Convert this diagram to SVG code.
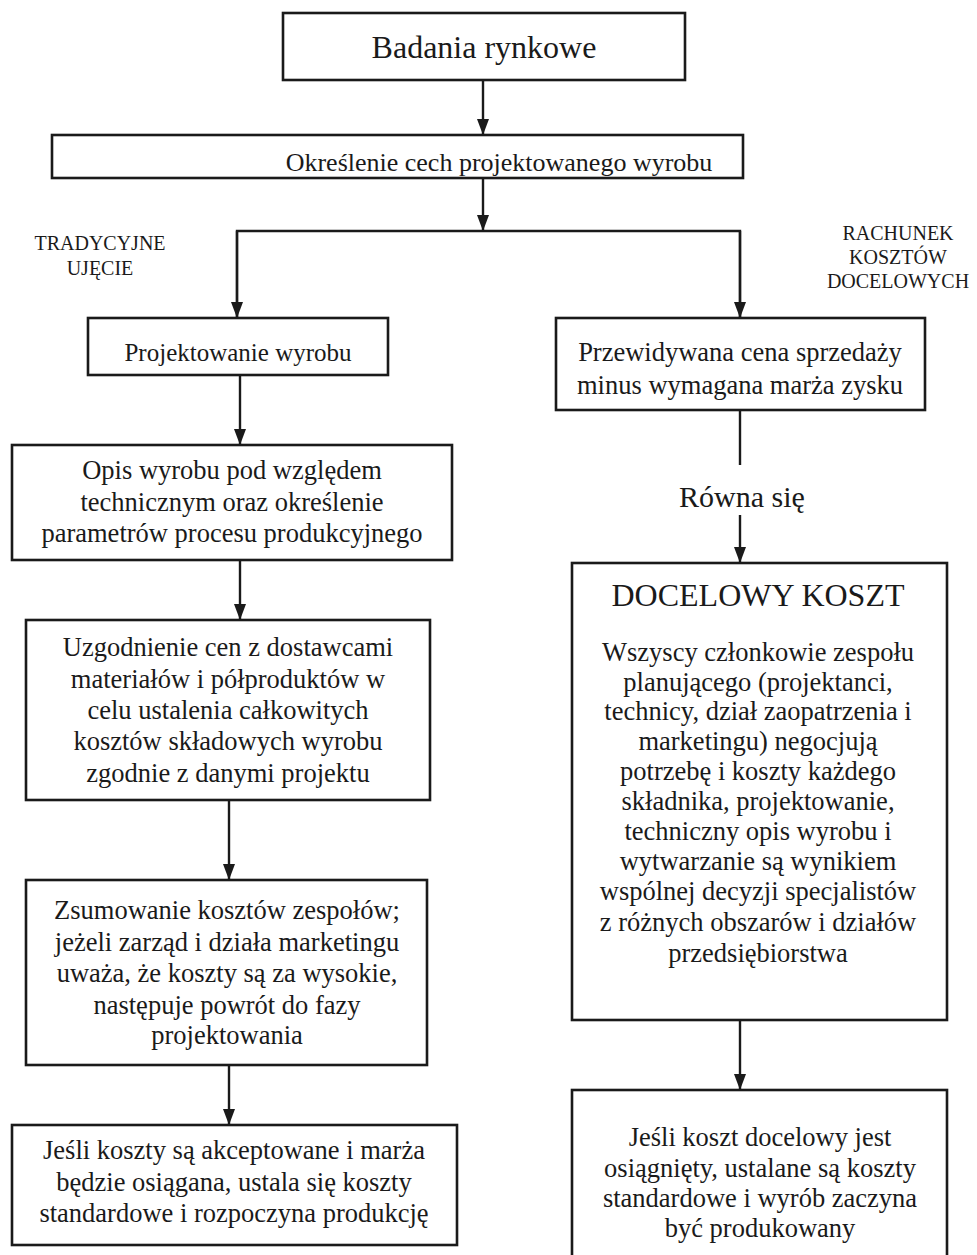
<svg xmlns="http://www.w3.org/2000/svg" width="977" height="1255" viewBox="0 0 977 1255">
<defs>
<style>
.box{fill:#fff;stroke:#1a1a1a;stroke-width:2.6}
.ln{fill:none;stroke:#1a1a1a;stroke-width:2.4}
text{font-family:"Liberation Serif","Times New Roman",serif;fill:#1a1a1a;text-anchor:middle}
.t{font-size:26.5px}
.s{font-size:20px}
</style>
<marker id="ah" viewBox="0 0 16 12" refX="16" refY="6" markerWidth="16" markerHeight="13" markerUnits="userSpaceOnUse" orient="auto">
<path d="M0,0 L16,6 L0,12 z" fill="#1a1a1a"/>
</marker>
</defs>
<rect width="977" height="1255" fill="#fff"/>
<g id="connectors">
<line class="ln" x1="483" y1="80" x2="483" y2="135" marker-end="url(#ah)"/>
<line class="ln" x1="483" y1="178" x2="483" y2="231" marker-end="url(#ah)"/>
<polyline class="ln" points="237,318 237,231 740,231 740,318"/>
<line class="ln" x1="237" y1="231" x2="237" y2="318" marker-end="url(#ah)"/>
<line class="ln" x1="740" y1="231" x2="740" y2="318" marker-end="url(#ah)"/>
<line class="ln" x1="240" y1="375" x2="240" y2="445" marker-end="url(#ah)"/>
<line class="ln" x1="240" y1="560" x2="240" y2="620" marker-end="url(#ah)"/>
<line class="ln" x1="229" y1="800" x2="229" y2="880" marker-end="url(#ah)"/>
<line class="ln" x1="229" y1="1065" x2="229" y2="1125" marker-end="url(#ah)"/>
<line class="ln" x1="740" y1="410" x2="740" y2="465"/>
<line class="ln" x1="740" y1="515" x2="740" y2="563" marker-end="url(#ah)"/>
<line class="ln" x1="740" y1="1020" x2="740" y2="1090" marker-end="url(#ah)"/>
</g>
<g id="n-badania">
<rect class="box" x="283" y="13" width="402" height="67"/>
<text x="484" y="58" style="font-size:32px">Badania rynkowe</text>
</g>
<g id="n-okreslenie">
<rect class="box" x="52" y="135" width="691" height="43"/>
<text x="499" y="171" style="font-size:26px">Określenie cech projektowanego wyrobu</text>
</g>
<g id="lbl-tradycyjne">
<text class="s" x="100" y="250">TRADYCYJNE</text>
<text class="s" x="100" y="275">UJĘCIE</text>
</g>
<g id="lbl-rachunek">
<text class="s" x="898" y="240">RACHUNEK</text>
<text class="s" x="898" y="264">KOSZTÓW</text>
<text class="s" x="898" y="288">DOCELOWYCH</text>
</g>
<g id="n-projektowanie">
<rect class="box" x="88" y="318" width="300" height="57"/>
<text x="238" y="361" style="font-size:25px">Projektowanie wyrobu</text>
</g>
<g id="n-cena">
<rect class="box" x="556" y="318" width="369" height="92"/>
<text class="t" x="740" y="361">Przewidywana cena sprzedaży</text>
<text class="t" x="740" y="394">minus wymagana marża zysku</text>
</g>
<g id="lbl-rowna">
<text x="742" y="507" style="font-size:30px">Równa się</text>
</g>
<g id="n-opis">
<rect class="box" x="12" y="445" width="440" height="115"/>
<text class="t" x="232" y="479">Opis wyrobu pod względem</text>
<text class="t" x="232" y="511">technicznym oraz określenie</text>
<text class="t" x="232" y="542">parametrów procesu produkcyjnego</text>
</g>
<g id="n-uzgodnienie">
<rect class="box" x="26" y="620" width="404" height="180"/>
<text class="t" x="228" y="656">Uzgodnienie cen z dostawcami</text>
<text class="t" x="228" y="688">materiałów i półproduktów w</text>
<text class="t" x="228" y="719">celu ustalenia całkowitych</text>
<text class="t" x="228" y="750">kosztów składowych wyrobu</text>
<text class="t" x="228" y="782">zgodnie z danymi projektu</text>
</g>
<g id="n-zsumowanie">
<rect class="box" x="26" y="880" width="401" height="185"/>
<text class="t" x="227" y="919">Zsumowanie kosztów zespołów;</text>
<text class="t" x="227" y="951">jeżeli zarząd i działa marketingu</text>
<text class="t" x="227" y="982">uważa, że koszty są za wysokie,</text>
<text class="t" x="227" y="1014">następuje powrót do fazy</text>
<text class="t" x="227" y="1044">projektowania</text>
</g>
<g id="n-jesli-l">
<rect class="box" x="12" y="1125" width="445" height="120"/>
<text class="t" x="234" y="1159">Jeśli koszty są akceptowane i marża</text>
<text class="t" x="234" y="1191">będzie osiągana, ustala się koszty</text>
<text class="t" x="234" y="1222">standardowe i rozpoczyna produkcję</text>
</g>
<g id="n-docelowy">
<rect class="box" x="572" y="563" width="375" height="457"/>
<text x="758" y="606" style="font-size:32px">DOCELOWY KOSZT</text>
<text class="t" x="758" y="661">Wszyscy członkowie zespołu</text>
<text class="t" x="758" y="691">planującego (projektanci,</text>
<text class="t" x="758" y="720">technicy, dział zaopatrzenia i</text>
<text class="t" x="758" y="750">marketingu) negocjują</text>
<text class="t" x="758" y="780">potrzebę i koszty każdego</text>
<text class="t" x="758" y="810">składnika, projektowanie,</text>
<text class="t" x="758" y="840">techniczny opis wyrobu i</text>
<text class="t" x="758" y="870">wytwarzanie są wynikiem</text>
<text class="t" x="758" y="900">wspólnej decyzji specjalistów</text>
<text class="t" x="758" y="931">z różnych obszarów i działów</text>
<text class="t" x="758" y="962">przedsiębiorstwa</text>
</g>
<g id="n-jesli-r">
<rect class="box" x="572" y="1090" width="375" height="175"/>
<text class="t" x="760" y="1146">Jeśli koszt docelowy jest</text>
<text class="t" x="760" y="1177">osiągnięty, ustalane są koszty</text>
<text class="t" x="760" y="1207">standardowe i wyrób zaczyna</text>
<text class="t" x="760" y="1237">być produkowany</text>
</g>
</svg>
